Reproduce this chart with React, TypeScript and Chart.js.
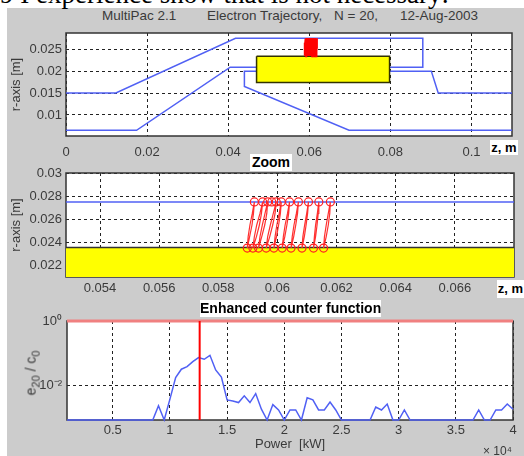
import React, { useEffect, useRef } from "react";
import { Chart, registerables } from "chart.js";

Chart.register(...registerables);

const SANS = "'Liberation Sans', Arial, sans-serif";
const TICK = "#3a3a3a";

// Panel 1: structure geometry
const outerZ = [0, 0.0123, 0.0418, 0.088, 0.088, 0.0405, 0.0174, 0];
const outerR = [0.015, 0.015, 0.0275, 0.0275, 0.0209, 0.0209, 0.0065, 0.0065];
const innerZ = [0.11, 0.0918, 0.0901, 0.044, 0.044, 0.0698, 0.11];
const innerR = [0.015, 0.015, 0.02, 0.02, 0.0165, 0.0065, 0.0065];
const rectZ = [0.047, 0.0798, 0.0798, 0.047, 0.047];
const rectR = [0.0234, 0.0234, 0.0174, 0.0174, 0.0234];

// Electron trajectories: narrow loops, bottom impact -> top impact -> bottom impact
const trajR = [0.0235, 0.0245, 0.0255, 0.0265, 0.0275, 0.0265, 0.0255, 0.0245, 0.0235];
const trajZ = [
  [0.05898, 0.05906, 0.05914, 0.05919, 0.05922, 0.05915, 0.05907, 0.05901, 0.05898],
  [0.05917, 0.05929, 0.05939, 0.05946, 0.0595, 0.05941, 0.0593, 0.05922, 0.05917],
  [0.05936, 0.05947, 0.05957, 0.05964, 0.05967, 0.05958, 0.05949, 0.05941, 0.05936],
  [0.05962, 0.05974, 0.05984, 0.05992, 0.05996, 0.05986, 0.05976, 0.05967, 0.05962],
  [0.05988, 0.05997, 0.06004, 0.0601, 0.06013, 0.06006, 0.05998, 0.05992, 0.05988],
  [0.06016, 0.06025, 0.06032, 0.06038, 0.06041, 0.06034, 0.06026, 0.0602, 0.06016],
  [0.06046, 0.06055, 0.06062, 0.06068, 0.06071, 0.06064, 0.06056, 0.0605, 0.06046],
  [0.06083, 0.06091, 0.06097, 0.06102, 0.06105, 0.06099, 0.06092, 0.06086, 0.06083],
  [0.06122, 0.06129, 0.06134, 0.06138, 0.0614, 0.06135, 0.06129, 0.06125, 0.06122],
  [0.06156, 0.06165, 0.06172, 0.06177, 0.06179, 0.06172, 0.06165, 0.06159, 0.06156],
];
const extraTopZ = [0.05981];

// Panel 2 horizon lines
const zoomZ = [0.05285, 0.068];
const wallR = [0.0275, 0.0275];
const metalR = [0.02355, 0.02355];

// Panel 3: counter function
const powerX = [
  0.1, 0.85, 0.9, 0.95, 1, 1.05, 1.1, 1.15, 1.2, 1.25, 1.3, 1.35, 1.4, 1.45, 1.5, 1.55, 1.6, 1.65, 1.7, 1.75,
  1.8, 1.85, 1.9, 1.95, 2, 2.05, 2.1, 2.15, 2.2, 2.25, 2.3, 2.35, 2.4, 2.45, 2.5, 2.75, 2.8, 2.85, 2.9, 2.95,
  3, 3.05, 3.1, 3.65, 3.7, 3.75, 3.8, 3.85, 3.9, 3.95, 4,
];
const counterY = [
  0.00083, 0.00083, 0.0023, 0.00083, 0.0037, 0.0174, 0.0316, 0.038, 0.0544, 0.0724, 0.0645, 0.0857, 0.03, 0.018,
  0.0035, 0.00326, 0.0029, 0.0047, 0.0029, 0.0055, 0.0018, 0.00083, 0.0025, 0.0017, 0.00083, 0.0017, 0.0017,
  0.00083, 0.0041, 0.0035, 0.0017, 0.0017, 0.003, 0.0017, 0.00083, 0.00083, 0.0021, 0.0017, 0.0026, 0.00083,
  0.00083, 0.0017, 0.00083, 0.00083, 0.0017, 0.00083, 0.00083, 0.0017, 0.0017, 0.0026, 0.0018,
];
const markerX = [1.26, 1.26];
const markerY = [0.00083, 1];
const limitX = [0.1, 4];
const limitY = [1, 1];

// Ticks
const ticks1X = [0, 0.02, 0.04, 0.06, 0.08, 0.1];
const ticks1Y = [0.01, 0.015, 0.02, 0.025];
const ticks2X = [0.054, 0.056, 0.058, 0.06, 0.062, 0.064, 0.066];
const ticks2Y = [0.022, 0.024, 0.026, 0.028, 0.03];
const ticks3X = [0.5, 1, 1.5, 2, 2.5, 3, 3.5, 4];
const ticks3Y = [0.01, 1];

const zip = (xs: number[], ys: number[]) => xs.map((x, i) => ({ x, y: ys[i] }));

const frame = {
  id: "frame",
  beforeDraw(c: any) {
    const a = c.chartArea;
    c.ctx.save();
    c.ctx.fillStyle = "#ffffff";
    c.ctx.fillRect(a.left, a.top, a.width, a.height);
    c.ctx.restore();
  },
  beforeDatasetsDraw(c: any) {
    const a = c.chartArea;
    c.ctx.save();
    c.ctx.strokeStyle = "#333333";
    c.ctx.lineWidth = 1.5;
    c.ctx.strokeRect(a.left, a.top, a.width, a.height);
    c.ctx.restore();
  },
};

function axis(fixedTicks: number[], min: number, max: number, size: number, pad: number, extra: any = {}) {
  return {
    type: "linear",
    min,
    max,
    afterBuildTicks: (s: any) => {
      s.ticks = fixedTicks.map((value) => ({ value }));
    },
    afterFit: (s: any) => {
      if (s.isHorizontal()) s.height = size;
      else s.width = size;
      s.paddingLeft = 0;
      s.paddingRight = 0;
      s.paddingTop = 0;
      s.paddingBottom = 0;
    },
    grid: { color: "#222222", lineWidth: 1, drawTicks: false },
    border: { dash: [3, 3], display: false },
    ticks: {
      color: TICK,
      font: { family: SANS, size: 13 },
      padding: pad,
      autoSkip: false,
      maxRotation: 0,
      callback: (v: number) => String(v),
    },
    ...extra,
  };
}

function yTitle() {
  return {
    display: true,
    text: "r-axis [m]",
    color: TICK,
    font: { family: SANS, size: 13 },
    padding: { top: 9, bottom: 0 },
  };
}

const PAD_TOP = 8;

function base(right: number, x: any, y: any) {
  return {
    responsive: false,
    animation: false as const,
    layout: { padding: { left: 0, right, top: PAD_TOP, bottom: 0 } },
    plugins: { legend: { display: false }, tooltip: { enabled: false } },
    elements: { point: { radius: 0 } },
    scales: { x, y },
  };
}

const BLUE = "#5060f4";
const RED = "#ff0000";

function line(data: any[], color: string, width: number, extra: any = {}) {
  return { data, borderColor: color, borderWidth: width, pointRadius: 0, tension: 0, showLine: true, fill: false, ...extra };
}

function useChart(make: () => any) {
  const ref = useRef<HTMLCanvasElement>(null);
  useEffect(() => {
    const chart = new Chart(ref.current as HTMLCanvasElement, make());
    return () => chart.destroy();
  }, []);
  return ref;
}

const canvasStyle = (top: number, height: number): React.CSSProperties => ({
  position: "absolute",
  left: 0,
  top,
  width: 524,
  height,
});

function Label({ x, y, w, h, size, bold, children }: any) {
  return (
    <div
      style={{
        position: "absolute",
        left: x,
        top: y,
        width: w,
        height: h,
        lineHeight: h + "px",
        background: "#ffffff",
        color: "#000000",
        textAlign: "center",
        fontFamily: SANS,
        fontSize: size,
        fontWeight: bold ? 700 : 400,
        whiteSpace: "nowrap",
      }}
    >
      {children}
    </div>
  );
}

function Plain({ x, y, size, color, children, style }: any) {
  return (
    <div
      style={{
        position: "absolute",
        left: x,
        top: y,
        fontFamily: SANS,
        fontSize: size,
        color,
        whiteSpace: "pre",
        ...style,
      }}
    >
      {children}
    </div>
  );
}

export default function App() {
  const r1 = useChart(() => ({
    type: "scatter",
    plugins: [frame],
    data: {
      datasets: [
        ...trajZ.map((z) => line(zip(z, trajR), RED, 3, { order: 1 })),
        line(zip(rectZ, rectR), "#333300", 1.5, { fill: "shape", backgroundColor: "#ffff00", order: 2 }),
        line(zip(outerZ, outerR), BLUE, 1.5, { order: 3 }),
        line(zip(innerZ, innerR), BLUE, 1.5, { order: 3 }),
      ],
    },
    options: base(
      12,
      axis(ticks1X, 0, 0.11, 23, 9),
      axis(ticks1Y, 0.0052, 0.0287, 66, 4, { title: yTitle() })
    ),
  }));

  const r2 = useChart(() => ({
    type: "scatter",
    plugins: [frame],
    data: {
      datasets: [
        ...trajZ.map((z) => line(zip(z, trajR), "#ff3030", 1.2, { order: 1 })),
        {
          data: [
            ...trajZ.map((z) => ({ x: z[0], y: trajR[0] })),
            ...trajZ.map((z) => ({ x: z[4], y: trajR[4] })),
            ...extraTopZ.map((x) => ({ x, y: trajR[4] })),
          ],
          showLine: false,
          pointRadius: 4,
          pointBorderColor: "#ff2020",
          pointBackgroundColor: "rgba(0,0,0,0)",
          pointBorderWidth: 1.2,
          order: 0,
        },
        line(zip(zoomZ, wallR), BLUE, 1.5, { order: 3 }),
        line(zip(zoomZ, metalR), "#333333", 1.5, {
          fill: "start",
          backgroundColor: "#ffff00",
          order: 4,
        }),
      ],
    },
    options: base(
      10,
      axis(ticks2X, 0.05285, 0.068, 24, 4),
      axis(ticks2Y, 0.021, 0.03, 66, 4, { title: yTitle() })
    ),
  }));

  const r3 = useChart(() => ({
    type: "scatter",
    plugins: [frame],
    data: {
      datasets: [
        line(zip(markerX, markerY), RED, 2, { order: 0 }),
        line(zip(limitX, limitY), "#f08080", 3, { order: 1, clip: false }),
        line(zip(powerX, counterY), BLUE, 1.5, { order: 2, clip: false }),
      ],
    },
    options: base(
      11,
      axis(ticks3X, 0.1, 4, 36, 3, {
        title: {
          display: true,
          text: "Power  [kW]",
          color: TICK,
          font: { family: SANS, size: 13 },
          padding: { top: 0, bottom: 4 },
        },
      }),
      {
        ...axis(ticks3Y, 0.00083, 1, 67, 5),
        type: "logarithmic",
        ticks: {
          color: TICK,
          font: { family: SANS, size: 13 },
          padding: 5,
          autoSkip: false,
          maxRotation: 0,
          callback: (v: number) => (v === 1 ? "10\u2070" : v === 0.01 ? "10\u207B\u00B2" : ""),
        },
      }
    ),
  }));

  return (
    <div style={{ position: "absolute", left: 0, top: 0, width: 524, height: 456, overflow: "hidden", background: "#ffffff" }}>
      <div style={{ position: "absolute", left: 7, top: 8, width: 517, height: 448, background: "#cccccc" }} />
      <div
        style={{
          position: "absolute",
          left: 0,
          top: -21,
          fontFamily: "'Liberation Serif', serif",
          fontSize: 27,
          color: "#000",
          whiteSpace: "pre",
        }}
      >
        {"9 I experience show that is not necessary:"}
      </div>
      <Plain x={102} y={8} size={13.5} color={TICK}>MultiPac 2.1</Plain>
      <Plain x={207} y={8} size={13.5} color={TICK}>Electron Trajectory,</Plain>
      <Plain x={334} y={8} size={13.5} color={TICK}>N = 20,</Plain>
      <Plain x={400} y={8} size={13.5} color={TICK}>12-Aug-2003</Plain>
      <canvas ref={r1} width={524} height={134} style={canvasStyle(25, 134)} />
      <canvas ref={r2} width={524} height={136} style={canvasStyle(165, 136)} />
      <canvas ref={r3} width={524} height={143} style={canvasStyle(313, 143)} />
      <Label x={490} y={140} w={28} h={15} size={13} bold>z, m</Label>
      <Label x={250} y={154} w={42} h={17} size={14} bold>Zoom</Label>
      <Label x={497} y={280} w={27} h={18} size={13} bold>z, m</Label>
      <Label x={200} y={300} w={181} h={17} size={14} bold>Enhanced counter function</Label>
      <Plain
        x={32}
        y={373}
        size={14}
        color={TICK}
        style={{ transform: "translate(-50%,-50%) rotate(-90deg)" }}
      >
        e<sub style={{ fontSize: 11 }}>20</sub> / c<sub style={{ fontSize: 11 }}>0</sub>
      </Plain>
      <Plain x={483} y={444} size={12} color={TICK}>
        {"\u00D7 10\u2074"}
      </Plain>
    </div>
  );
}
